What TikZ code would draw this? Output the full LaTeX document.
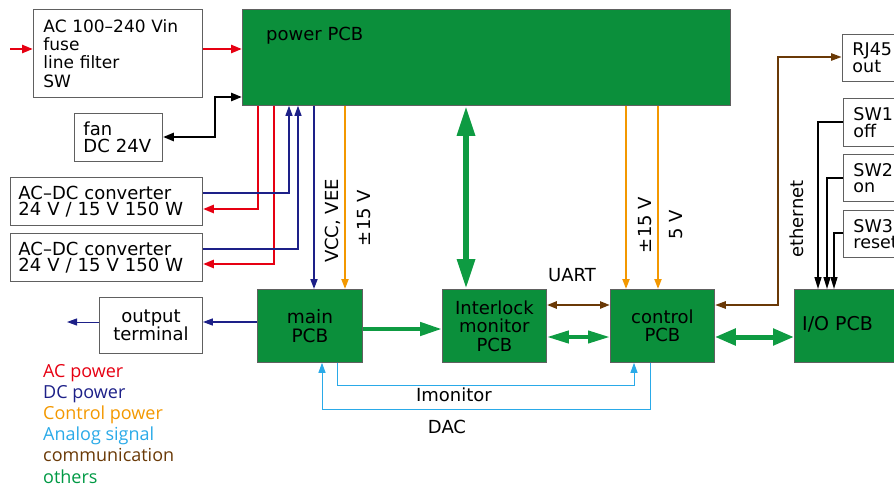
\documentclass[tikz,border=0pt]{standalone}
\usepackage{fontspec}
\setmainfont{DejaVu Sans}
\newfontfamily\legfont{Open Sans}
\usetikzlibrary{arrows.meta}
\definecolor{pcbgreen}{HTML}{0B8F3B}
\definecolor{argreen}{HTML}{0E9B42}
\definecolor{acred}{HTML}{E60012}
\definecolor{dcblue}{HTML}{1D2088}
\definecolor{ctrlor}{HTML}{F39800}
\definecolor{anablue}{HTML}{2AAAE8}
\definecolor{combrown}{HTML}{6A3906}
\definecolor{othgreen}{HTML}{009944}
\definecolor{boxgray}{HTML}{606060}
\begin{document}
\begin{tikzpicture}[x=1pt,y=-1pt,
  txt/.style={font=\fontsize{18pt}{18pt}\selectfont},
  wbox/.style={draw=boxgray, line width=0.9pt, fill=white, anchor=north west, inner ysep=0pt, align=left},
  gbox/.style={draw=boxgray, line width=0.8pt, fill=pcbgreen, anchor=north west, inner sep=0pt, align=center},
  leg/.style={font=\legfont\fontsize{18pt}{18pt}\selectfont, anchor=base west, inner sep=0pt},
  acline/.style={draw=acred, line width=2.6pt},
  dcthin/.style={draw=dcblue, line width=1.2pt},
  dcline/.style={draw=dcblue, line width=1.8pt},
  ctrlline/.style={draw=ctrlor, line width=2pt},
  gline/.style={draw=argreen},
  brline/.style={draw=combrown, line width=2.4pt},
  swline/.style={draw=black, line width=1.4pt},
  analine/.style={draw=anablue, line width=1pt},
  tipA/.tip={Triangle[length=11pt,width=8pt]},
  tipS/.tip={Triangle[length=10pt,width=7pt]}
]
\useasboundingbox (0,0) rectangle (894,487);
\clip (0,0) rectangle (894,487);

% white boxes
\node[wbox, font=\fontsize{17pt}{18.3pt}\selectfont, minimum height=88pt, text width=149pt, inner xsep=10pt] (ac) at (33,9) {AC 100–240 Vin\\fuse\\line filter\\SW};
\node[wbox, font=\fontsize{18pt}{16.8pt}\selectfont, minimum height=48pt, text width=70pt, inner xsep=9pt] (fan) at (74,113) {fan\\DC 24V};
\node[wbox, font=\fontsize{18pt}{16.5pt}\selectfont, minimum height=48pt, text width=176pt, inner xsep=8pt] (conv1) at (10,177) {AC–DC converter\\24 V / 15 V 150 W};
\node[wbox, font=\fontsize{18pt}{16.5pt}\selectfont, minimum height=48pt, text width=176pt, inner xsep=8pt] (conv2) at (10,233) {AC–DC converter\\24 V / 15 V 150 W};
\node[wbox, font=\fontsize{18pt}{16.5pt}\selectfont, minimum height=56pt, text width=103pt, inner xsep=0pt, align=center] (outterm) at (99,297) {output\\terminal};
\node[wbox, font=\fontsize{17.5pt}{16.5pt}\selectfont, minimum height=47pt, text width=50pt, inner xsep=10pt] (rj) at (842,34) {RJ45\\out};
\node[wbox, font=\fontsize{17.5pt}{16.5pt}\selectfont, minimum height=48pt, text width=50pt, inner xsep=10pt] (sw1) at (843,98) {SW1\\off};
\node[wbox, font=\fontsize{17.5pt}{16.5pt}\selectfont, minimum height=47pt, text width=50pt, inner xsep=10pt] (sw2) at (843,154) {SW2\\on};
\node[wbox, font=\fontsize{17.5pt}{16.5pt}\selectfont, minimum height=47pt, text width=50pt, inner xsep=10pt] (sw3) at (843,210) {SW3\\reset};

% green boards
\node[gbox, minimum width=488pt, minimum height=96pt] (power) at (242,9) {};
\node[txt, anchor=base west, inner sep=0pt] (powerlbl) at (266,41) {power PCB};
\node[gbox, font=\fontsize{18.5pt}{19pt}\selectfont, minimum width=105pt, minimum height=73pt] (main) at (257,289) {main\\PCB};
\node[gbox, font=\fontsize{18pt}{18.5pt}\selectfont, minimum width=104pt, minimum height=73pt] (il) at (442,289) {Interlock\\monitor\\PCB};
\node[gbox, font=\fontsize{18pt}{18pt}\selectfont, minimum width=104pt, minimum height=73pt] (ctrl) at (610,289) {control\\PCB};
\node[gbox, minimum width=110pt, minimum height=73pt] (io) at (794,289) {};
\node[anchor=base west, inner sep=0pt, font=\fontsize{19pt}{19pt}\selectfont] (iolbl) at (802,330) {I/O PCB};

% labels
\node[txt, rotate=90, anchor=base, inner sep=0pt] (lvcc) at (338,221) {VCC, VEE};
\node[txt, rotate=90, anchor=base, inner sep=0pt] (l15a) at (370,218) {±15 V};
\node[txt, rotate=90, anchor=base, inner sep=0pt] (l15b) at (651,225) {±15 V};
\node[txt, rotate=90, anchor=base, inner sep=0pt] (l5) at (682,225) {5 V};
\node[txt, rotate=90, anchor=base, inner sep=0pt] (leth) at (803,219) {ethernet};
\node[txt, anchor=base, inner sep=0pt] (luart) at (572,281) {UART};
\node[txt, anchor=base, inner sep=0pt] (limon) at (454,401) {Imonitor};
\node[txt, anchor=base, inner sep=0pt] (ldac) at (447,433) {DAC};

% legend
\node[leg, text=acred] (lg1) at (43,377) {AC power};
\node[leg, text=dcblue] (lg2) at (43,398.2) {DC power};
\node[leg, text=ctrlor] (lg3) at (43,419.4) {Control power};
\node[leg, text=anablue] (lg4) at (43,440.6) {Analog signal};
\node[leg, text=combrown] (lg5) at (43,461.8) {communication};
\node[leg, text=othgreen] (lg6) at (43,483) {others};

% AC input
\coordinate (acsrc) at (10,49);
\draw[acline, -tipA] (acsrc) -- (ac.west |- acsrc);
\draw[acline, -tipA] (ac.east |- acsrc) -- (power.west |- acsrc);

% fan
\draw[draw=black, line width=2.6pt, tipA-tipA] (fan.east |- 0,137) -- (215,137) -- (215,97) -- (power.west |- 0,97);

% AC to converters
\draw[acline, -tipA] (power.south -| 258,0) -- (258,209) -- (conv1.east |- 0,209);
\draw[acline, -tipA] (power.south -| 274,0) -- (274,264) -- (conv2.east |- 0,264);
% DC from converters
\draw[dcthin, -tipS] (conv1.east |- 0,193) -- (289,193) -- (power.south -| 289,0);
\draw[dcthin, -tipS] (conv2.east |- 0,249) -- (298,249) -- (power.south -| 298,0);
% VCC VEE
\draw[dcline, -tipS] (power.south -| 314,0) -- (main.north -| 314,0);
% control power
\draw[ctrlline, -tipS] (power.south -| 345,0) -- (main.north -| 345,0);
\draw[ctrlline, -tipS] (power.south -| 626,0) -- (ctrl.north -| 626,0);
\draw[ctrlline, -tipS] (power.south -| 658,0) -- (ctrl.north -| 658,0);

% others (green)
\draw[gline, line width=6pt, {Triangle[length=30pt,width=17pt]}-{Triangle[length=30pt,width=17pt]}] (power.south -| 466,0) -- (il.north -| 466,0);
\draw[gline, line width=4.5pt, -{Triangle[length=22pt,width=13pt]}] (main.east |- 0,329) -- (il.west |- 0,329);
\draw[gline, line width=4pt, {Triangle[length=22pt,width=12pt]}-{Triangle[length=22pt,width=12pt]}] (il.east |- 0,337) -- (ctrl.west |- 0,337);
\draw[gline, line width=5pt, {Triangle[length=21pt,width=16pt]}-{Triangle[length=21pt,width=16pt]}] (ctrl.east |- 0,337) -- (io.west |- 0,337);

% communication
\draw[brline, {Triangle[length=10pt,width=7pt]}-{Triangle[length=10pt,width=7pt]}] (il.east |- 0,305) -- (ctrl.west |- 0,305);
\draw[brline, {Triangle[length=11pt,width=7pt]}-{Triangle[length=11pt,width=7pt]}] (ctrl.east |- 0,305) -- (778,305) -- (778,57) -- (rj.west |- 0,57);

% switches
\draw[swline, -{Triangle[length=12pt,width=7pt]}] (sw1.west |- 0,122) -- (818,122) -- (io.north -| 818,0);
\draw[swline, -{Triangle[length=12pt,width=7pt]}] (sw2.west |- 0,178) -- (827,178) -- (io.north -| 827,0);
\draw[swline, -{Triangle[length=12pt,width=7pt]}] (sw3.west |- 0,233) -- (834,233) -- (io.north -| 834,0);

% output
\coordinate (outend) at (67,322);
\draw[dcthin, line width=1.4pt, -tipS] (main.west |- 0,322) -- (outterm.east |- 0,322);
\draw[dcthin, line width=1pt, -tipS] (outterm.west |- 0,322) -- (outend);

% analog
\draw[analine, -tipS] (main.south -| 337,0) -- (337,385) -- (634,385) -- (ctrl.south -| 634,0);
\draw[analine, -tipS] (ctrl.south -| 650,0) -- (650,409) -- (322,409) -- (main.south -| 322,0);
\end{tikzpicture}
\end{document}
